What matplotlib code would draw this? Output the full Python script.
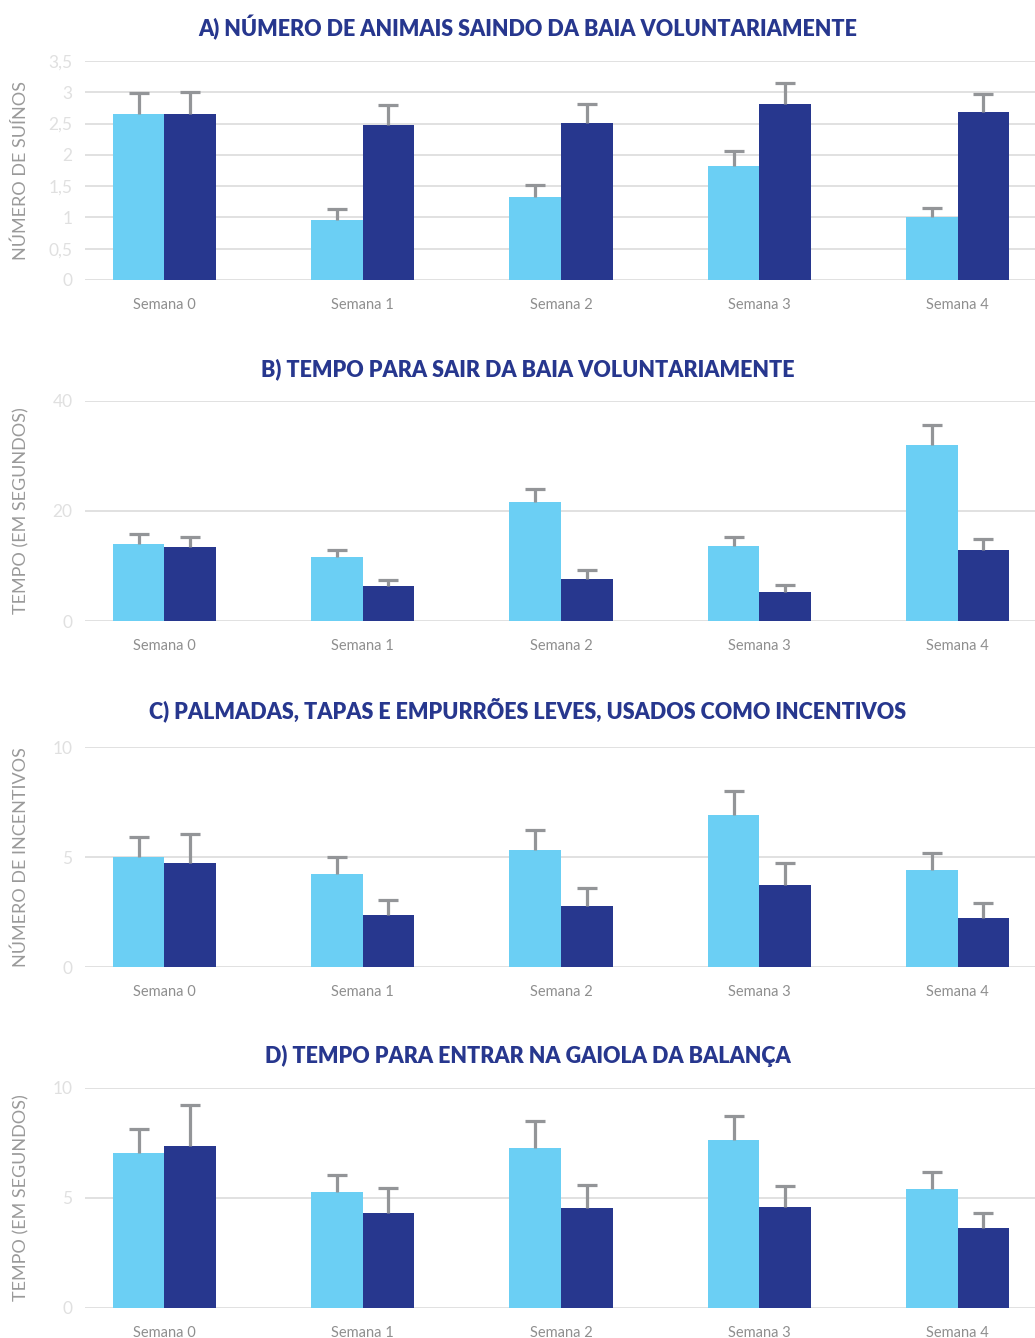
import numpy as np
import matplotlib
matplotlib.use("Agg")
import matplotlib.pyplot as plt

# Data
weeks = ["Semana 0", "Semana 1", "Semana 2", "Semana 3", "Semana 4"]

titles = [
    "A) NÚMERO DE ANIMAIS SAINDO DA BAIA VOLUNTARIAMENTE",
    "B) TEMPO PARA SAIR DA BAIA VOLUNTARIAMENTE",
    "C) PALMADAS, TAPAS E EMPURRÕES LEVES, USADOS COMO INCENTIVOS",
    "D) TEMPO PARA ENTRAR NA GAIOLA DA BALANÇA",
]
ylabels = ["NÚMERO DE SUÍNOS", "TEMPO (EM SEGUNDOS)",
           "NÚMERO DE INCENTIVOS", "TEMPO (EM SEGUNDOS)"]

a_light = [2.65, 0.96, 1.33, 1.82, 1.01]
a_light_err = [0.34, 0.17, 0.19, 0.24, 0.14]
a_dark = [2.65, 2.48, 2.51, 2.81, 2.68]
a_dark_err = [0.35, 0.32, 0.30, 0.34, 0.29]

b_light = [14.0, 11.6, 21.6, 13.6, 32.0]
b_light_err = [1.8, 1.3, 2.4, 1.7, 3.6]
b_dark = [13.45, 6.4, 7.6, 5.3, 12.9]
b_dark_err = [1.85, 1.05, 1.7, 1.2, 2.0]

c_light = [5.0, 4.23, 5.32, 6.9, 4.41]
c_light_err = [0.9, 0.77, 0.91, 1.1, 0.77]
c_dark = [4.73, 2.36, 2.77, 3.73, 2.23]
c_dark_err = [1.32, 0.69, 0.83, 1.0, 0.67]

d_light = [7.05, 5.27, 7.27, 7.64, 5.41]
d_light_err = [1.09, 0.78, 1.23, 1.09, 0.77]
d_dark = [7.36, 4.32, 4.55, 4.6, 3.64]
d_dark_err = [1.87, 1.13, 1.05, 0.95, 0.68]

a_ticks = [0, 0.5, 1, 1.5, 2, 2.5, 3, 3.5]
a_ticklabels = ["0", "0,5", "1", "1,5", "2", "2,5", "3", "3,5"]
b_ticks = [0, 20, 40]
c_ticks = [0, 5, 10]
d_ticks = [0, 5, 10]

panels = [
    (a_light, a_light_err, a_dark, a_dark_err, a_ticks, a_ticklabels),
    (b_light, b_light_err, b_dark, b_dark_err, b_ticks, [str(t) for t in b_ticks]),
    (c_light, c_light_err, c_dark, c_dark_err, c_ticks, [str(t) for t in c_ticks]),
    (d_light, d_light_err, d_dark, d_dark_err, d_ticks, [str(t) for t in d_ticks]),
]

LIGHT = "#6bcff4"
DARK = "#27378e"
ERR = "#939598"
GRID = "#dedede"

W, H = 1035, 1338
fig = plt.figure(figsize=(W / 100, H / 100), dpi=100)

# pixel boxes (top, bottom) of each plot area and title y
boxes = [(61, 280, 28), (401, 621, 369), (747, 967, 710), (1088, 1308, 1056)]
left_px, right_px = 85, 1035

x = np.arange(len(weeks))
bw = 0.26


def upper_errbar(ax, xs, vals, errs):
    tops = np.array(vals) + np.array(errs)
    ax.vlines(xs, vals, tops, color=ERR, linewidth=2.3, zorder=3)
    ax.plot(xs, tops, linestyle="none", marker="_", markersize=15,
            markeredgewidth=2.3, color=ERR, zorder=3)


for i, (lv, le, dv, de, ticks, tlabels) in enumerate(panels):
    top, bot, ty = boxes[i]
    ax = fig.add_axes([left_px / W, 1 - bot / H, (right_px - left_px) / W, (bot - top) / H])
    ax.bar(x - bw / 2, lv, bw, color=LIGHT, zorder=2)
    ax.bar(x + bw / 2, dv, bw, color=DARK, zorder=2)
    upper_errbar(ax, x - bw / 2, lv, le)
    upper_errbar(ax, x + bw / 2, dv, de)

    ax.set_xlim(-0.4, 4.39)
    ax.set_ylim(ticks[0], ticks[-1])
    ax.set_yticks(ticks)
    ax.set_yticklabels(tlabels, family="Lato", fontsize=12.5, color="#e0e0e0")
    ax.set_xticks(x)
    ax.set_xticklabels(weeks, family="Lato", fontsize=10.5, color="#8f8f8f")
    ax.tick_params(axis="both", length=0)
    ax.tick_params(axis="x", pad=13)
    ax.tick_params(axis="y", pad=9)
    ax.grid(axis="y", color=GRID, linewidth=1.3, zorder=0)
    for s in ax.spines.values():
        s.set_visible(False)

    fig.text(21 / W, 1 - (top + bot) / 2 / H, ylabels[i], rotation=90,
             ha="center", va="center", family="Lato", fontsize=13, color="#9a9a9a")
    fig.text(528 / W, 1 - ty / H, titles[i], ha="center", va="center",
             family="Lato", fontweight="heavy", fontsize=15.5, color=DARK)

fig.savefig("out.png", dpi=100)
